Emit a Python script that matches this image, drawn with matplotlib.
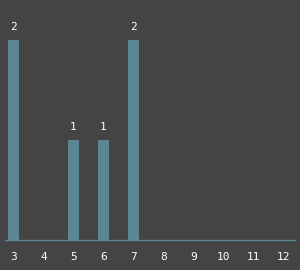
import matplotlib
matplotlib.use("Agg")
import matplotlib.pyplot as plt

categories = [3, 4, 5, 6, 7, 8, 9, 10, 11, 12]
counts = [2, 0, 1, 1, 2, 0, 0, 0, 0, 0]

bg = "#444444"
bar_color = "#5b8692"

fig = plt.figure(figsize=(3, 2.7), dpi=100, facecolor=bg)
ax = fig.add_axes([5/300, 30/270, 290/300, 240/270])
ax.set_facecolor(bg)

ax.bar(categories, counts, width=11/30, color=bar_color)
ax.set_xlim(2.717, 12.383)
ax.set_ylim(0, 2.4)

for x, v in zip(categories, counts):
    if v > 0:
        ax.annotate(str(v), (x, v), xytext=(0, 6), textcoords="offset points",
                    ha="center", va="bottom", color="white",
                    family="DejaVu Sans Mono", fontsize=8)

for s in ["top", "left", "right"]:
    ax.spines[s].set_visible(False)
ax.spines["bottom"].set_color(bar_color)
ax.spines["bottom"].set_linewidth(1)
ax.set_yticks([])
ax.set_xticks(categories)
ax.set_xticklabels([str(c) for c in categories], color="white",
                   family="DejaVu Sans Mono", fontsize=8)
ax.tick_params(axis="x", length=0, pad=9)

fig.savefig("out.png", dpi=100, facecolor=bg)
